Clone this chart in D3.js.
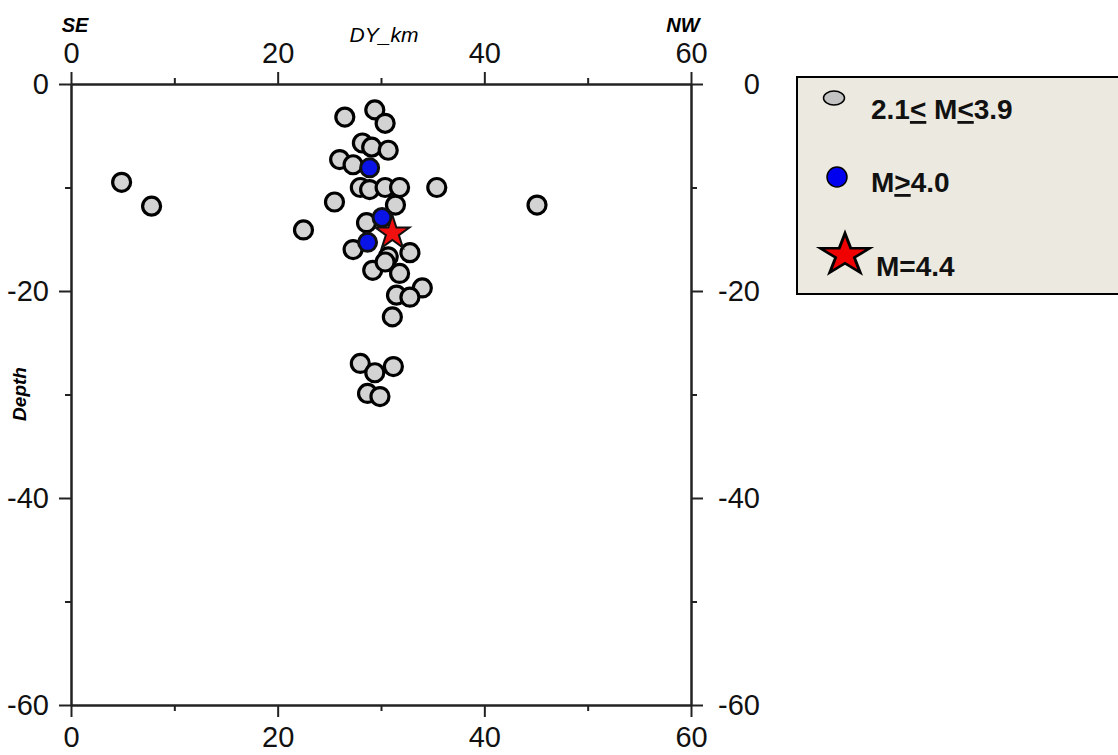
<!DOCTYPE html>
<html><head><meta charset="utf-8">
<script src="https://cdn.jsdelivr.net/npm/d3@7"></script>
<style>
body{margin:0;background:#fff;}
svg{display:block;}
text{font-family:"Liberation Sans",Arial,sans-serif;}
</style></head>
<body>
<svg id="c" width="1118" height="755"></svg>
<script>
// ---- data ----
const xTicks = [0, 20, 40, 60];
const xMinor = [10, 30, 50];
const yTicks = [0, -20, -40, -60];
const yMinor = [-10, -30, -50];
// small events 2.1<=M<=3.9 : [distance km, depth]
const grayX = [4.9, 7.8, 22.5, 45.1, 35.4, 34.0, 26.5, 29.4, 30.4, 28.2, 29.1, 30.7, 26.0, 27.3, 28.0, 28.9, 30.4, 31.8, 25.5, 31.4, 28.6, 27.3, 32.8, 30.7, 29.2, 31.8, 31.5, 32.8, 31.1, 28.0, 31.2, 29.4, 28.7, 29.9, 30.4];
const grayY = [-9.5, -11.8, -14.1, -11.7, -10.0, -19.7, -3.2, -2.5, -3.8, -5.7, -6.1, -6.4, -7.3, -7.8, -10.0, -10.2, -10.0, -10.0, -11.4, -11.7, -13.4, -16.0, -16.3, -16.7, -18.0, -18.3, -20.4, -20.6, -22.5, -27.0, -27.3, -27.9, -29.9, -30.2, -17.2];
// M>=4.0
const blueX = [28.9, 30.1, 28.7];
const blueY = [-8.1, -12.9, -15.3];
// M=4.4 mainshock
const starX = [31.1];
const starY = [-14.4];
const legendLabels = ["2.1< M<3.9", "M>4.0", "M=4.4"];

const svg = d3.select("#c");
const x = d3.scaleLinear().domain([0, 60]).range([71, 691]);
const y = d3.scaleLinear().domain([0, -60]).range([84, 705]);

const axisColor = "#222";
const tickFont = "'Liberation Sans',Arial,sans-serif";
const fmt = d => String(d);
function styleAxis(g){
  g.select(".domain").attr("stroke", axisColor).attr("stroke-width", 2);
  g.selectAll(".tick line").attr("stroke", axisColor).attr("stroke-width", 2);
  g.selectAll(".tick text").attr("font-size", 29).attr("fill", "#111")
   .attr("font-family", tickFont);
}

// major axes
const gTop = svg.append("g").attr("transform", "translate(0,84)")
  .call(d3.axisTop(x).tickValues(xTicks).tickFormat(fmt).tickSize(12).tickSizeOuter(0).tickPadding(9));
styleAxis(gTop);
const gBottom = svg.append("g").attr("transform", "translate(0,705)")
  .call(d3.axisBottom(x).tickValues(xTicks).tickFormat(fmt).tickSize(12).tickSizeOuter(0).tickPadding(9));
styleAxis(gBottom);
const gLeft = svg.append("g").attr("transform", "translate(71,0)")
  .call(d3.axisLeft(y).tickValues(yTicks).tickFormat(fmt).tickSize(12).tickSizeOuter(0).tickPadding(10));
styleAxis(gLeft);
const gRight = svg.append("g").attr("transform", "translate(691,0)")
  .call(d3.axisRight(y).tickValues(yTicks).tickFormat(fmt).tickSize(12).tickSizeOuter(0).tickPadding(14));
styleAxis(gRight);
gRight.selectAll(".tick text").attr("text-anchor", "end").attr("x", 69);
// minor ticks
[[84, d3.axisTop(x)], [705, d3.axisBottom(x)]].forEach(([t, a]) => {
  const g = svg.append("g").attr("transform", `translate(0,${t})`)
    .call(a.tickValues(xMinor).tickSize(6).tickFormat("").tickSizeOuter(0));
  styleAxis(g);
});
[[71, d3.axisLeft(y)], [691, d3.axisRight(y)]].forEach(([t, a]) => {
  const g = svg.append("g").attr("transform", `translate(${t},0)`)
    .call(a.tickValues(yMinor).tickSize(6).tickFormat("").tickSizeOuter(0));
  styleAxis(g);
});

// axis titles
svg.append("text").attr("x", 75).attr("y", 32).attr("text-anchor","middle")
  .attr("font-size", 20).attr("font-weight","bold").attr("font-style","italic").text("SE");
svg.append("text").attr("x", 683).attr("y", 32).attr("text-anchor","middle")
  .attr("font-size", 20).attr("font-weight","bold").attr("font-style","italic").text("NW");
svg.append("text").attr("x", 384).attr("y", 42).attr("text-anchor","middle")
  .attr("font-size", 21).attr("font-style","italic").text("DY_km");
svg.append("text").attr("transform","translate(26,394) rotate(-90)").attr("text-anchor","middle")
  .attr("font-size", 19).attr("font-weight","bold").attr("font-style","italic").text("Depth");

// points
const gray = d3.zip(grayX, grayY);
svg.append("g").selectAll("circle").data(gray).join("circle")
  .attr("cx", d => x(d[0])).attr("cy", d => y(d[1])).attr("r", 9)
  .attr("fill", "#d3d3d3").attr("stroke", "#000").attr("stroke-width", 3.2);
const blue = d3.zip(blueX, blueY);
svg.append("g").selectAll("circle").data(blue).join("circle")
  .attr("cx", d => x(d[0])).attr("cy", d => y(d[1])).attr("r", 9)
  .attr("fill", "#0a14e6").attr("stroke", "#111").attr("stroke-width", 3);
const star = d3.zip(starX, starY);
svg.append("g").selectAll("path").data(star).join("path")
  .attr("transform", d => `translate(${x(d[0])},${y(d[1])})`)
  .attr("d", d3.symbol(d3.symbolStar, 360))
  .attr("fill", "#f01010").attr("stroke", "#111").attr("stroke-width", 2);

// legend
const lg = svg.append("g");
lg.append("rect").attr("x", 797).attr("y", 77).attr("width", 340).attr("height", 217)
  .attr("fill", "#ece9e0").attr("stroke", "#000").attr("stroke-width", 2);
lg.append("ellipse").attr("cx", 834).attr("cy", 98).attr("rx", 10.5).attr("ry", 7)
  .attr("fill", "#c3c3c3").attr("stroke", "#000").attr("stroke-width", 1.5);
lg.append("circle").attr("cx", 837).attr("cy", 177).attr("r", 10)
  .attr("fill", "#0000f0").attr("stroke", "#000").attr("stroke-width", 1.5);
lg.append("path").attr("transform", "translate(845,255) scale(1,0.84)")
  .attr("d", d3.symbol(d3.symbolStar, 750))
  .attr("fill", "#f00000").attr("stroke", "#000").attr("stroke-width", 3);

function legendText(xp, yp, parts){
  const t = lg.append("text").attr("x", xp).attr("y", yp)
    .attr("font-size", 28).attr("font-weight", "bold").attr("fill", "#111");
  parts.forEach(([s, u]) => {
    const ts = t.append("tspan").text(s);
    if (u) ts.attr("text-decoration", "underline");
  });
}
const l0 = legendLabels[0];
legendText(871, 119, [[l0.slice(0,3)], [l0.slice(3,4), true], [l0.slice(4,6)], [l0.slice(6,7), true], [l0.slice(7)]]);
const l1 = legendLabels[1];
legendText(871, 192, [[l1.slice(0,1)], [l1.slice(1,2), true], [l1.slice(2)]]);
legendText(876, 276, [[legendLabels[2]]]);
</script>
</body></html>
